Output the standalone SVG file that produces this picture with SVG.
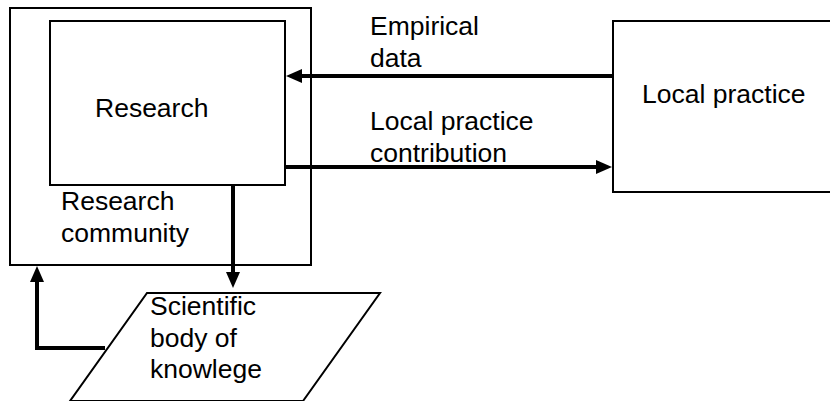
<svg xmlns="http://www.w3.org/2000/svg" width="830" height="401" viewBox="0 0 830 401">
<defs>
<style>
.box{fill:#fff;stroke:#000;stroke-width:2}
.t{font-family:"Liberation Sans",Arial,sans-serif;font-size:26.5px;fill:#000}
.c{fill:none;stroke:#000;stroke-width:4}
</style>
<marker id="ah" viewBox="0 0 16 14" refX="6" refY="7" markerWidth="16" markerHeight="14" markerUnits="userSpaceOnUse" orient="auto">
<path d="M0,0 L16,7 L0,14 Z" fill="#000"/>
</marker>
</defs>
<rect width="830" height="401" fill="#fff"/>
<g id="community">
<rect class="box" x="10" y="8" width="301" height="257"/>
<text class="t" x="61" y="210">Research</text>
<text class="t" x="61" y="242">community</text>
</g>
<g id="research">
<rect class="box" x="50" y="21" width="235" height="164"/>
<text class="t" x="95" y="117">Research</text>
</g>
<g id="local">
<rect class="box" x="613" y="21" width="230" height="171"/>
<text class="t" x="642" y="103">Local practice</text>
</g>
<g id="knowledge">
<polygon class="box" points="147,293 380,293 303,401 70,401"/>
<text class="t" x="150" y="315">Scientific</text>
<text class="t" x="150" y="347">body of</text>
<text class="t" x="150" y="378">knowlege</text>
</g>
<g id="connectors">
<line class="c" x1="612" y1="76" x2="296" y2="76" marker-end="url(#ah)"/>
<line class="c" x1="285" y1="167" x2="602" y2="167" marker-end="url(#ah)"/>
<line class="c" x1="233" y1="185" x2="233" y2="278" marker-end="url(#ah)"/>
<polyline class="c" points="105,348 37,348 37,276" marker-end="url(#ah)"/>
<text class="t" x="370" y="35">Empirical</text>
<text class="t" x="370" y="67">data</text>
<text class="t" x="370" y="130">Local practice</text>
<text class="t" x="370" y="162">contribution</text>
</g>
</svg>
